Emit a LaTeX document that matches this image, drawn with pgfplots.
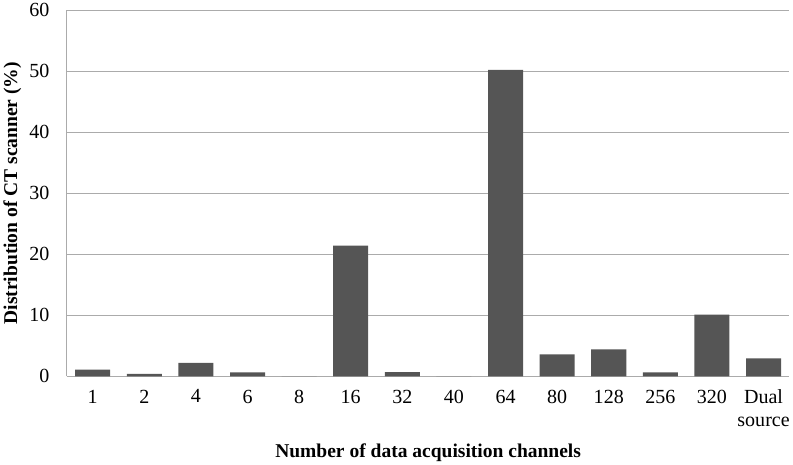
\documentclass[border=0pt]{standalone}
\usepackage{pgfplots}
\pgfplotsset{compat=1.18}
\usepackage{fontspec}
\setmainfont{Liberation Serif}
\definecolor{barc}{HTML}{555555}
\definecolor{gridc}{HTML}{ABABAB}
\begin{document}
\begin{tikzpicture}
\begin{axis}[
  scale only axis,
  width=722bp, height=366bp,
  xmin=-0.5, xmax=13.5,
  ymin=0, ymax=60,
  ytick={0,10,...,60},
  xtick={0,...,13},
  xticklabels={1,2,4,6,8,16,32,40,64,80,128,256,320,{Dual\\source}},
  xticklabel style={align=center, anchor=north, yshift=-10bp},
  yticklabel style={anchor=east, xshift=-14bp},
  /pgf/number format/assume math mode=true,
  ticklabel style={font=\fontsize{20bp}{23bp}\selectfont},
  major tick length=0pt,
  axis x line*=bottom,
  axis y line*=left,
  axis line style={gridc, line width=1pt},
  ymajorgrids,
  major grid style={gridc, line width=1pt},
  xlabel={\textbf{Number of data acquisition channels}},
  ylabel={\textbf{Distribution of CT scanner (\%)}},
  label style={font=\fontsize{19.5bp}{21bp}\selectfont},
  xlabel style={at={(axis description cs:0.5,0)}, anchor=base, yshift=-81bp},
  ylabel style={at={(axis description cs:-0.069,0.5)}, anchor=base, rotate=0},
]
\addplot[ybar, bar width=35bp, fill=barc, draw=none] coordinates {
(0,1.1) (1,0.4) (2,2.2) (3,0.65) (4,0) (5,21.4) (6,0.7) (7,0) (8,50.2) (9,3.6) (10,4.4) (11,0.65) (12,10.1) (13,2.95)
};
\end{axis}
\end{tikzpicture}
\end{document}
